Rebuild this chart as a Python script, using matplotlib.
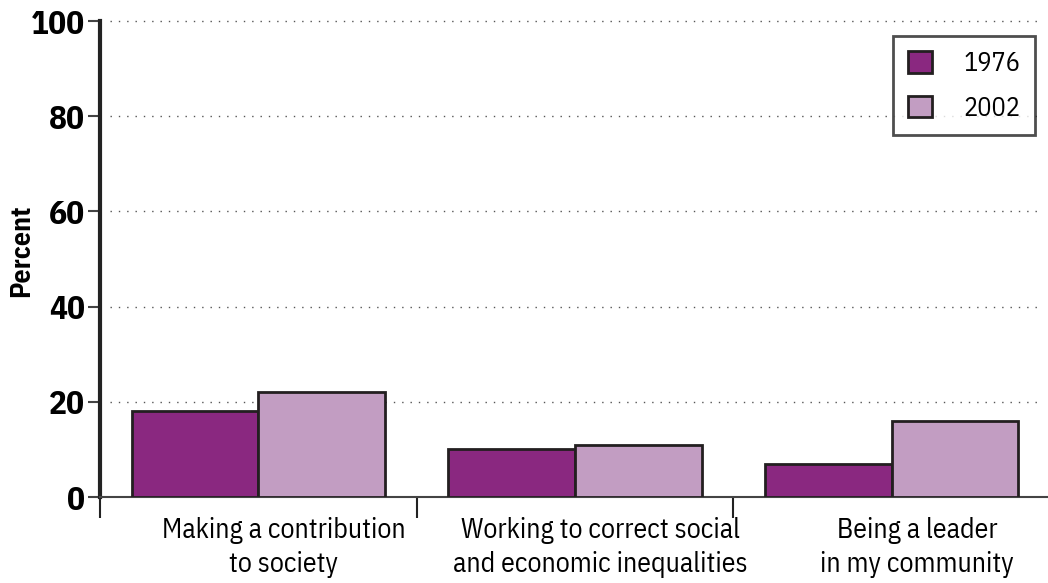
import matplotlib.pyplot as plt
import numpy as np

plt.rcParams['font.family'] = ['IBM Plex Sans Condensed', 'DejaVu Sans']

# Data
categories = ['Making a contribution\nto society',
              'Working to correct social\nand economic inequalities',
              'Being a leader\nin my community']
years = ['1976', '2002']
values_1976 = [18, 10, 7]
values_2002 = [22, 11, 16]
colors = ['#8A2880', '#C29DC2']

fig = plt.figure(figsize=(10.48, 5.83), dpi=100)
ax = fig.add_axes([100 / 1048, 86 / 583, 950 / 1048, 476 / 583])

x = np.arange(len(categories))
w = 0.4
ax.bar(x - w / 2, values_1976, w, color=colors[0], edgecolor='#231F20',
       linewidth=2, label=years[0], zorder=3)
ax.bar(x + w / 2, values_2002, w, color=colors[1], edgecolor='#231F20',
       linewidth=2, label=years[1], zorder=3)

ax.set_xlim(-0.5, 2.5)
ax.set_ylim(0, 100)

# dotted grid lines
for yv in [20, 40, 60, 80, 100]:
    ax.plot([-0.47, 2.47], [yv, yv], linestyle=(0, (1, 5)), color='#555555',
            linewidth=1, zorder=1, clip_on=False)

ax.set_yticks([0, 20, 40, 60, 80, 100])
ax.set_yticklabels(['0', '20', '40', '60', '80', '100'], fontsize=24,
                   fontweight='bold')
ax.tick_params(axis='y', length=9, width=1.5, color='#444444', pad=2)

# category separators below baseline
ax.set_xticks([-0.5, 0.5, 1.5])
ax.set_xticklabels([])
ax.tick_params(axis='x', length=15, width=1.5, color='#222222', direction='out')
for i, c in enumerate(categories):
    ax.text(x[i] + 0.08, -4.3, c, ha='center', va='top', fontsize=20,
            linespacing=1.32, transform=ax.transData)

ax.spines['top'].set_visible(False)
ax.spines['right'].set_visible(False)
ax.spines['left'].set_linewidth(3)
ax.spines['left'].set_color('#222222')
ax.spines['bottom'].set_linewidth(1.5)
ax.spines['bottom'].set_color('#444444')

ax.set_ylabel('Percent', fontsize=20, fontweight='bold')
ax.yaxis.set_label_coords(-0.068, 0.517)

leg = ax.legend(loc='upper right', bbox_to_anchor=(0.984, 0.968), fontsize=19,
                frameon=True, fancybox=False, edgecolor='#222222',
                handlelength=0.9, handleheight=0.9, handletextpad=1.2,
                labelspacing=0.75, borderpad=0.55, borderaxespad=0)
leg.get_frame().set_linewidth(2)
leg.set_zorder(5)

fig.savefig('out.png', dpi=100)
